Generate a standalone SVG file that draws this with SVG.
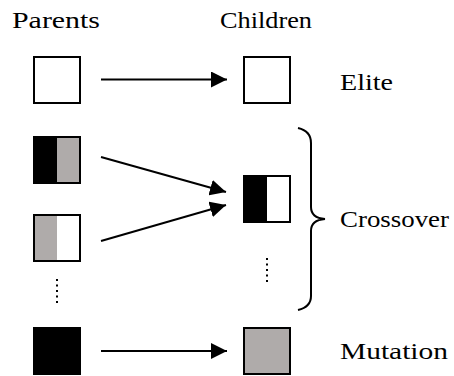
<svg xmlns="http://www.w3.org/2000/svg" width="454" height="376" viewBox="0 0 454 376">
<defs>
<style>
text{font-family:"Liberation Serif","Times New Roman",serif;font-size:23.5px;fill:#000}
.box{stroke:#000;stroke-width:2}
.conn{stroke:#000;stroke-width:2;fill:none}
.dots{stroke:#000;stroke-width:2;stroke-dasharray:2 3.5;fill:none}
</style>
<marker id="ah" viewBox="0 0 16 16" refX="16" refY="8" markerWidth="16" markerHeight="16" markerUnits="userSpaceOnUse" orient="auto">
<path d="M0,0 L16,8 L0,16 z" fill="#000"/>
</marker>
</defs>
<rect width="454" height="376" fill="#fff"/>
<g id="headers">
<text x="12" y="28" textLength="88" lengthAdjust="spacingAndGlyphs">Parents</text>
<text x="220" y="28" textLength="92" lengthAdjust="spacingAndGlyphs">Children</text>
</g>
<g id="elite-parent"><rect class="box" x="34" y="57" width="46" height="46" fill="#fff"/></g>
<g id="elite-child"><rect class="box" x="244" y="57" width="46" height="46" fill="#fff"/></g>
<g id="elite-label"><text x="340" y="90" textLength="53" lengthAdjust="spacingAndGlyphs">Elite</text></g>
<g id="cross-parent-1">
<rect x="34" y="137" width="23" height="46" fill="#000"/>
<rect x="57" y="137" width="23" height="46" fill="#afabaa"/>
<rect class="box" x="34" y="137" width="46" height="46" fill="none"/>
</g>
<g id="cross-parent-2">
<rect x="34" y="215" width="23" height="46" fill="#afabaa"/>
<rect x="57" y="215" width="23" height="46" fill="#fff"/>
<rect class="box" x="34" y="215" width="46" height="46" fill="none"/>
</g>
<g id="parent-dots"><line class="dots" x1="57" y1="279" x2="57" y2="304"/></g>
<g id="cross-child">
<rect x="244" y="176" width="23" height="46" fill="#000"/>
<rect x="267" y="176" width="23" height="46" fill="#fff"/>
<rect class="box" x="244" y="176" width="46" height="46" fill="none"/>
</g>
<g id="child-dots"><line class="dots" x1="267" y1="258" x2="267" y2="283"/></g>
<g id="brace"><path class="conn" stroke-width="1.6" d="M298,128 Q311,131 311,143 L311,207 Q311,218 325,219 Q311,220 311,231 L311,296 Q311,307 298,310"/></g>
<g id="cross-label"><text x="340" y="227" textLength="109" lengthAdjust="spacingAndGlyphs">Crossover</text></g>
<g id="mut-parent"><rect class="box" x="34" y="328" width="46" height="46" fill="#000"/></g>
<g id="mut-child"><rect class="box" x="244" y="328" width="46" height="46" fill="#afabaa"/></g>
<g id="mut-label"><text x="340" y="359" textLength="108" lengthAdjust="spacingAndGlyphs">Mutation</text></g>
<g id="connectors">
<line class="conn" x1="101" y1="79.5" x2="227" y2="79.5" marker-end="url(#ah)"/>
<line class="conn" x1="101" y1="157" x2="226" y2="192" marker-end="url(#ah)"/>
<line class="conn" x1="101" y1="241" x2="226" y2="205" marker-end="url(#ah)"/>
<line class="conn" x1="101" y1="351" x2="227" y2="351" marker-end="url(#ah)"/>
</g>
</svg>
